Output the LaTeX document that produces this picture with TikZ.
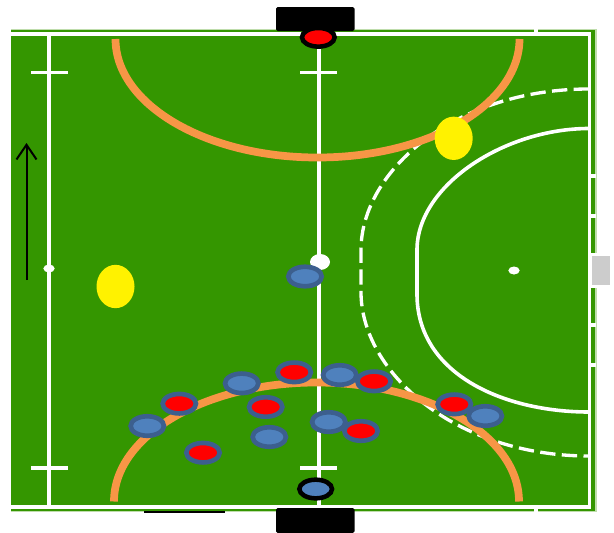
\documentclass[tikz,border=0pt]{standalone}
\usetikzlibrary{shapes.geometric,arrows.meta}
\definecolor{pitch}{HTML}{349600}
\definecolor{rim}{HTML}{BFDDAC}
\definecolor{arcorange}{HTML}{F79646}
\definecolor{pblue}{HTML}{4F81BD}
\definecolor{pedge}{HTML}{3C5F8E}
\definecolor{pred}{HTML}{FF0000}
\definecolor{sidebox}{HTML}{CCCCCC}
\tikzset{
  playerbase/.style={ellipse,inner sep=0pt,minimum width=25pt,minimum height=14.6pt,line width=3.5pt,draw=pedge},
  blueplayer/.style={playerbase,fill=pblue},
  redplayer/.style={playerbase,fill=pred},
  keeperbase/.style={ellipse,inner sep=0pt,minimum width=24.5pt,minimum height=14pt,line width=3.4pt,draw=black},
  umpire/.style={ellipse,inner sep=0pt,fill=yellow,minimum width=28.5pt,minimum height=32.5pt},
  spot/.style={ellipse,inner sep=0pt,fill=white},
  goalbox/.style={fill=black,rounded corners=1.2pt},
  fieldline/.style={draw=white,line width=3pt},
  thinline/.style={draw=white,line width=2.4pt},
  circlearc/.style={draw=arcorange,line width=5.8pt},
  shoot/.style={draw=white,line width=2.7pt},
  shootdash/.style={draw=white,line width=2.5pt,dash pattern=on 11.5pt off 4.8pt}
}
\begin{document}
\begin{tikzpicture}[x=0.75pt,y=-0.75pt]
\useasboundingbox (0,0) rectangle (614,532);
% pitch
\fill[rim] (11,29) rectangle (596.5,512);
\fill[pitch] (11,30) rectangle (595,511);
% outer white border
\draw[thinline] (11,34) -- (589.5,34) -- (589.5,507) -- (11,507);
% perimeter ticks
\draw[thinline] (536,29) -- (536,34);
\draw[thinline] (536,507) -- (536,512);
\draw[thinline] (589.5,176) -- (596,176);
\draw[thinline] (589.5,216) -- (596,216);
\draw[thinline] (589.5,325) -- (596,325);
\draw[thinline] (589.5,365) -- (596,365);
\fill[white] (590.5,253) rectangle (597,288);
\fill[sidebox] (592,256) rectangle (609.5,285);
% goals
\path[goalbox] (276,7) rectangle (354.5,31);
\path[goalbox] (276,508) rectangle (354.5,533);
\fill[black] (144,511) rectangle (225,512.5);
% field lines
\draw[fieldline] (49,34) -- (49,507);
\draw[fieldline] (319,34) -- (319,507);
\draw[thinline] (31,72.5) -- (68,72.5);
\draw[thinline] (300,72.5) -- (337,72.5);
\draw[thinline] (31,468) -- (68,468);
\draw[thinline] (300,468) -- (337,468);
% dashed and solid circles
\draw[shootdash] (589,89) .. controls (455,89) and (361,171) .. (361,250) -- (361,292) .. controls (361,372) and (455,456) .. (589,456);
\draw[shoot] (589,128.5) .. controls (505,128.5) and (417,185) .. (417,250) -- (417,294) .. controls (417,375) and (505,412) .. (589,412);
% orange arcs
\draw[circlearc] (115.5,39) arc[start angle=180,end angle=360,x radius=202,y radius=-118.5];
\draw[circlearc] (114,501.5) arc[start angle=180,end angle=360,x radius=202.5,y radius=119];
% spots
\node[spot,minimum width=8.5pt,minimum height=6pt] (leftspot) at (49,268.5) {};
\node[spot,minimum width=8.5pt,minimum height=6pt] (penaltyspot) at (514,270.5) {};
\node[spot,minimum width=15pt,minimum height=12pt] (ball) at (320,262) {};
% direction arrow
\coordinate (arrowfoot) at (26.5,280);
\coordinate (arrowtip) at (26.5,143);
\draw[black,line width=1.5pt,-{Straight Barb[length=11pt,width=15pt]}] (arrowfoot) -- (arrowtip);
% umpires
\node[umpire] (ump1) at (115.5,286.5) {};
\node[umpire] (ump2) at (453.7,138.3) {};
% keepers
\node[keeperbase,fill=pred] (keeptop) at (318.3,37.3) {};
\node[keeperbase,fill=pblue] (keepbot) at (315.7,489) {};
% blue players
\node[blueplayer] (b1) at (147.3,426) {};
\node[blueplayer] (b2) at (241.7,383.3) {};
\node[blueplayer] (b3) at (269.3,437) {};
\node[blueplayer] (b4) at (305,276.5) {};
\node[blueplayer] (b5) at (339.7,375) {};
\node[blueplayer] (b6) at (328.7,422) {};
\node[blueplayer] (b7) at (485.3,416) {};
% red players
\node[redplayer] (r1) at (179.3,403.7) {};
\node[redplayer] (r2) at (203,452.7) {};
\node[redplayer] (r3) at (265.7,407) {};
\node[redplayer] (r4) at (294.2,372.3) {};
\node[redplayer] (r5) at (374,381.3) {};
\node[redplayer] (r6) at (361,431) {};
\node[redplayer] (r7) at (454.3,404.3) {};
\end{tikzpicture}
\end{document}
